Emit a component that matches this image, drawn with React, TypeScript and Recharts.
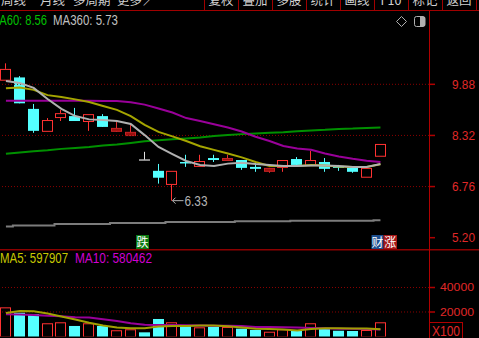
import React from "react";
import { ComposedChart, Bar, Line, XAxis, YAxis, ReferenceLine } from "recharts";

// weekly K-line, 28 candles + 3 empty slots on the right
const weeks = Array.from({ length: 31 }, (_, i) => `W${i + 1}`);

const opens = [9.99, 10.09, 9.13, 8.43, 8.85, 8.91, 8.73, 8.91, 8.43, 8.3, 7.57, 7.24, 6.81, 7.51, 7.36, 7.63, 7.54, 7.57, 7.36, 7.21, 7.33, 7.6, 7.39, 7.51, 7.39, 7.33, 7.03, 7.67];
const highs = [10.52, 10.13, 9.28, 8.85, 9.1, 9.16, 8.97, 8.97, 8.73, 8.64, 7.82, 7.45, 7.24, 7.73, 7.73, 7.73, 7.73, 7.57, 7.51, 7.33, 7.57, 7.66, 7.85, 7.63, 7.42, 7.33, 7.33, 8.06];
const lows = [9.99, 9.3, 8.4, 8.43, 8.76, 8.76, 8.46, 8.58, 8.43, 8.3, 7.57, 6.85, 6.33, 7.36, 7.36, 7.51, 7.54, 7.27, 7.21, 7.18, 7.21, 7.42, 7.39, 7.21, 7.24, 7.18, 7.03, 7.67];
const closes = [10.35, 9.3, 8.46, 8.79, 9.0, 8.76, 8.97, 8.58, 8.55, 8.43, 7.57, 7.03, 7.24, 7.48, 7.54, 7.57, 7.63, 7.33, 7.3, 7.33, 7.57, 7.42, 7.57, 7.3, 7.33, 7.21, 7.33, 8.06];
// candles drawn as solid dark red
const darkCandles = [8, 9, 16, 19];

const ma5 = [9.98, 9.92, 9.77, 9.43, 9.13, 8.91, 8.81, 8.79, 8.76, 8.67, 8.33, 7.97, 7.75, 7.54, 7.42, 7.39, 7.46, 7.49, 7.45, 7.42, 7.39, 7.39, 7.4, 7.4, 7.39, 7.36, 7.36, 7.45];
const ma10 = [9.76, 9.78, 9.71, 9.55, 9.49, 9.42, 9.34, 9.22, 9.1, 8.91, 8.64, 8.43, 8.29, 8.15, 7.99, 7.88, 7.77, 7.65, 7.51, 7.39, 7.39, 7.39, 7.42, 7.4, 7.37, 7.36, 7.36, 7.44];
const ma30 = [9.38, 9.38, 9.38, 9.38, 9.38, 9.38, 9.38, 9.37, 9.37, 9.33, 9.26, 9.14, 9.02, 8.85, 8.76, 8.66, 8.56, 8.44, 8.28, 8.15, 8.0, 7.92, 7.88, 7.77, 7.68, 7.61, 7.55, 7.51];
const ma60 = [7.76, 7.8, 7.84, 7.87, 7.91, 7.94, 7.97, 8.01, 8.04, 8.09, 8.14, 8.17, 8.2, 8.23, 8.26, 8.3, 8.33, 8.36, 8.38, 8.4, 8.42, 8.45, 8.47, 8.49, 8.52, 8.53, 8.55, 8.56];
const ma360 = [5.54, 5.57, 5.57, 5.57, 5.62, 5.62, 5.62, 5.62, 5.65, 5.65, 5.65, 5.65, 5.68, 5.68, 5.68, 5.68, 5.68, 5.7, 5.7, 5.7, 5.7, 5.72, 5.72, 5.72, 5.72, 5.72, 5.72, 5.73];

// volume in lots of 100
const volumes = [23800, 19400, 18400, 10800, 11600, 8600, 10800, 8600, 5100, 5900, 3400, 14300, 11600, 8600, 7500, 8000, 7800, 6400, 5300, 3900, 5900, 4700, 10800, 6400, 4700, 4500, 5300, 11600];
const volMa5 = [19200, 20800, 20600, 18800, 16300, 13900, 11200, 9000, 7300, 6700, 6700, 8200, 8600, 8600, 9000, 9000, 8300, 7300, 6400, 6100, 5700, 4900, 6100, 6700, 6700, 6500, 6500, 5980];
const volMa10 = [18100, 18000, 17600, 16900, 16500, 15800, 15500, 14100, 12700, 10800, 9600, 9400, 9400, 9200, 9000, 8800, 8700, 8600, 7800, 7800, 7600, 7300, 6900, 6700, 6400, 6300, 6100, 5805];

const priceTicks = [5.2, 6.76, 8.32, 9.88];
const priceGrid = [6.76, 8.32, 9.88];
const volTicks = [20000, 30000, 40000];
const volGrid = [20000, 40000];

const periodTabs = ["周线", "月线", "多周期", "更多", "∕"];
const toolButtons = ["复权", "叠加", "多股", "统计", "画线", "F10", "标记", "返回"];

const data = weeks.map((week, i) => ({
  week,
  open: opens[i],
  high: highs[i],
  low: lows[i],
  close: closes[i],
  dark: darkCandles.includes(i),
  ma5: ma5[i],
  ma10: ma10[i],
  ma30: ma30[i],
  ma60: ma60[i],
  ma360: ma360[i],
  volume: volumes[i],
  volMa5: volMa5[i],
  volMa10: volMa10[i],
}));

const minLow = Math.min(...lows);
const AXIS_X = 430; // right axis position inside each chart (chart starts at page x -1)
const LATIN = "'Liberation Sans', Arial, sans-serif";
const CJK = "'Noto Sans CJK SC', sans-serif";
const UP = "#ff3232";
const DOWN = "#54ffff";

function Candle(props: any) {
  const { x, y, width, height, payload } = props;
  if (!payload || payload.high == null) return null;
  const { open, high, low, close, dark } = payload;
  const top = Math.min(y, y + height);
  const k = Math.abs(height) / (high - low || 1);
  const py = (v: number) => top + (high - v) * k;
  const left = Math.round(x);
  const w = Math.round(width);
  const cx = left + Math.floor(w / 2) + 0.5;
  const bTop = py(Math.max(open, close));
  const bBot = py(Math.min(open, close));
  const parts: React.ReactNode[] = [];

  if (close === open) {
    parts.push(<line key="w" x1={cx} x2={cx} y1={py(high)} y2={py(low)} stroke="#e0e0e0" />);
    parts.push(<line key="b" x1={left} x2={left + w} y1={bTop} y2={bTop} stroke="#b4b4b4" strokeWidth={1.5} />);
  } else if (close < open) {
    parts.push(<line key="w" x1={cx} x2={cx} y1={py(high)} y2={py(low)} stroke={DOWN} />);
    parts.push(<rect key="b" x={left} y={bTop} width={w} height={Math.max(bBot - bTop, 1.5)} fill={DOWN} />);
  } else if (dark) {
    parts.push(<line key="w" x1={cx} x2={cx} y1={py(high)} y2={py(low)} stroke="#e03030" />);
    parts.push(<rect key="b" x={left + 0.5} y={bTop + 0.5} width={w - 1} height={Math.max(bBot - bTop - 1, 1)} fill="#9c1010" stroke="#c82424" />);
  } else {
    parts.push(<line key="w1" x1={cx} x2={cx} y1={py(high)} y2={bTop} stroke={UP} />);
    parts.push(<line key="w2" x1={cx} x2={cx} y1={bBot} y2={py(low)} stroke={UP} />);
    parts.push(<rect key="b" x={left + 0.5} y={bTop + 0.5} width={w - 1} height={Math.max(bBot - bTop - 1, 1)} fill="#000" stroke={UP} />);
  }

  if (low === minLow) {
    const ly = py(low);
    parts.push(
      <g key="lowmark">
        <polyline points={`${cx + 4},${ly - 3} ${cx + 1},${ly} ${cx + 4},${ly + 3}`} fill="none" stroke="#b4b4b4" />
        <line x1={cx + 1} x2={cx + 12} y1={ly} y2={ly} stroke="#b4b4b4" />
        <text x={cx + 13} y={ly + 5} fill="#b4b4b4" fontSize={14} fontFamily={LATIN} textLength={23} lengthAdjust="spacingAndGlyphs">
          {low.toFixed(2)}
        </text>
      </g>
    );
  }
  return <g>{parts}</g>;
}

function VolBar(props: any) {
  const { x, y, width, height, payload } = props;
  if (!payload || payload.volume == null) return null;
  const top = Math.min(y, y + height);
  const h = Math.abs(height);
  const left = Math.round(x);
  const w = Math.round(width);
  if (payload.close > payload.open) {
    return <rect x={left + 0.5} y={top + 0.5} width={w - 1} height={h} fill="#000" stroke={UP} />;
  }
  return <rect x={left} y={top} width={w} height={h + 1} fill={DOWN} />;
}

function PriceTick({ y, payload }: any) {
  return (
    <g>
      <line x1={AXIS_X} x2={AXIS_X + 6} y1={y} y2={y} stroke="#b00000" strokeWidth={1.5} />
      <text x={453} y={y + 4.8} fill="#e02828" fontSize={13.5} fontFamily={LATIN} textLength={23} lengthAdjust="spacingAndGlyphs">
        {Number(payload.value).toFixed(2)}
      </text>
    </g>
  );
}

function VolTick({ y, payload }: any) {
  if (payload.value === 30000) {
    return <line x1={AXIS_X} x2={AXIS_X + 2} y1={y} y2={y} stroke="#b00000" />;
  }
  return (
    <g>
      <line x1={AXIS_X} x2={AXIS_X + 6} y1={y} y2={y} stroke="#b00000" strokeWidth={1.5} />
      <text x={441} y={y + 4} fill="#e02828" fontSize={11.5} fontFamily={LATIN} textLength={34} lengthAdjust="spacingAndGlyphs">
        {payload.value}
      </text>
    </g>
  );
}

function Overlay() {
  const tabX = [1, 40, 73, 117, 143];
  return (
    <svg width={479} height={338} style={{ position: "absolute", left: 0, top: 0 }}>
      {/* toolbar, cut at the top edge */}
      {periodTabs.map((t, i) => (
        <text key={t} x={tabX[i]} y={5} fill="#d0d0d0" fontSize={12.5} fontFamily={CJK}>
          {t}
        </text>
      ))}
      {toolButtons.map((t, i) => (
        <g key={t}>
          <line x1={204.5 + i * 34} x2={204.5 + i * 34} y1={0} y2={10} stroke="#a00000" />
          <text x={221 + i * 34} y={5} fill="#d0d0d0" fontSize={12.5} fontFamily={CJK} textAnchor="middle">
            {t}
          </text>
        </g>
      ))}
      <line x1={476.5} x2={476.5} y1={0} y2={10} stroke="#a00000" />
      <rect x={0} y={10} width={479} height={1} fill="#a00000" />

      {/* MA legend of the price panel */}
      <text x={-10} y={25} fill="#00c000" fontSize={14} fontFamily={LATIN} textLength={57} lengthAdjust="spacingAndGlyphs">
        MA60: {ma60[ma60.length - 1].toFixed(2)}
      </text>
      <text x={53} y={25} fill="#c0c0c0" fontSize={14} fontFamily={LATIN} textLength={65} lengthAdjust="spacingAndGlyphs">
        MA360: {ma360[ma360.length - 1].toFixed(2)}
      </text>
      <polygon points="401.5,16.5 406.5,21.5 401.5,26.5 396.5,21.5" fill="none" stroke="#b0b0b0" />
      <rect x={414.5} y={16.5} width={10.5} height={10} rx={2} fill="none" stroke="#b0b0b0" />
      <rect x={420} y={17} width={5} height={9} fill="#b0b0b0" />

      {/* event markers */}
      <rect x={136} y={235} width={13} height={14} fill="#0b7a12" />
      <text x={142.5} y={246.5} fill="#fff" fontSize={12} fontFamily={CJK} textAnchor="middle">跌</text>
      <rect x={371.5} y={235} width={12} height={14} fill="#1d4f8f" />
      <text x={377.5} y={246.5} fill="#fff" fontSize={12} fontFamily={CJK} textAnchor="middle">财</text>
      <rect x={383.5} y={235} width={13.5} height={14} fill="#a51818" />
      <text x={390.2} y={246.5} fill="#fff" fontSize={12} fontFamily={CJK} textAnchor="middle">涨</text>

      {/* panel separator and axis line */}
      <rect x={0} y={249} width={479} height={1.5} fill="#8c0000" />
      <rect x={429} y={11} width={1} height={327} fill="#b00000" />

      {/* volume legend */}
      <text x={0} y={263} fill="#c8c800" fontSize={14} fontFamily={LATIN} textLength={68} lengthAdjust="spacingAndGlyphs">
        MA5: 597907
      </text>
      <text x={75} y={263} fill="#d000d0" fontSize={14} fontFamily={LATIN} textLength={77} lengthAdjust="spacingAndGlyphs">
        MA10: 580462
      </text>

      <rect x={429.5} y={322.5} width={33} height={20} fill="none" stroke="#b00000" />
      <text x={432} y={335.5} fill="#e02828" fontSize={14} fontFamily={LATIN} textLength={28} lengthAdjust="spacingAndGlyphs">
        X100
      </text>
    </svg>
  );
}

export default function App() {
  return (
    <div style={{ position: "absolute", left: 0, top: 0, width: 479, height: 338, background: "#000", overflow: "hidden" }}>
      <div style={{ position: "absolute", left: -1, top: 10 }}>
        <ComposedChart width={480} height={240} data={data} margin={{ top: 20, right: 0, bottom: 5, left: 0 }} barCategoryGap={0}>
          <XAxis dataKey="week" hide />
          <YAxis
            orientation="right"
            width={50}
            type="number"
            domain={[4.977, 11.537]}
            ticks={priceTicks}
            allowDataOverflow
            axisLine={false}
            tickLine={false}
            tick={<PriceTick />}
          />
          {priceGrid.map((v) => (
            <ReferenceLine key={v} y={v} stroke="#8a0000" strokeDasharray="1 2" />
          ))}
          <Bar dataKey={(d: any) => (d.high == null ? null : [d.low, d.high])} barSize={11} shape={<Candle />} isAnimationActive={false} />
          <Line dataKey="ma360" type="step" stroke="#7c7c7c" strokeWidth={2} dot={false} isAnimationActive={false} />
          <Line dataKey="ma60" type="linear" stroke="#009000" strokeWidth={2} dot={false} isAnimationActive={false} />
          <Line dataKey="ma30" type="linear" stroke="#990099" strokeWidth={2} dot={false} isAnimationActive={false} />
          <Line dataKey="ma10" type="linear" stroke="#a5a500" strokeWidth={2} dot={false} isAnimationActive={false} />
          <Line dataKey="ma5" type="linear" stroke="#b0b0b0" strokeWidth={2} dot={false} isAnimationActive={false} />
        </ComposedChart>
      </div>
      <div style={{ position: "absolute", left: -1, top: 250 }}>
        <ComposedChart width={480} height={88} data={data} margin={{ top: 12, right: 0, bottom: 1.5, left: 0 }} barCategoryGap={0}>
          <XAxis dataKey="week" hide />
          <YAxis
            orientation="right"
            width={50}
            type="number"
            domain={[0, 60816]}
            ticks={volTicks}
            allowDataOverflow
            axisLine={false}
            tickLine={false}
            tick={<VolTick />}
          />
          {volGrid.map((v) => (
            <ReferenceLine key={v} y={v} stroke="#8a0000" strokeDasharray="1 2" />
          ))}
          <Bar dataKey="volume" barSize={11} shape={<VolBar />} isAnimationActive={false} />
          <Line dataKey="volMa10" type="linear" stroke="#990099" strokeWidth={2} dot={false} isAnimationActive={false} />
          <Line dataKey="volMa5" type="linear" stroke="#a0a000" strokeWidth={2} dot={false} isAnimationActive={false} />
        </ComposedChart>
      </div>
      <Overlay />
    </div>
  );
}
